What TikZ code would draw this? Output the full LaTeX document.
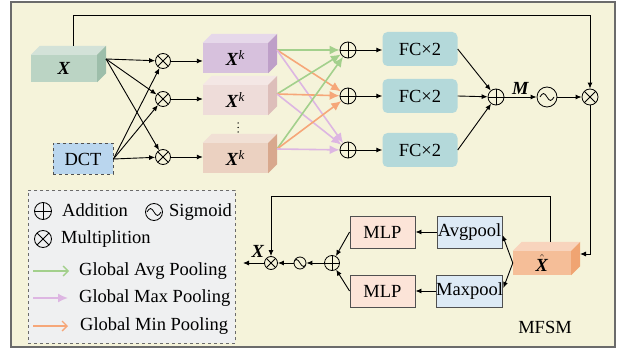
\documentclass[tikz,border=0pt]{standalone}
\usepackage{amsmath}
\usepackage{fontspec}
\setmainfont{Liberation Serif}
\usetikzlibrary{arrows.meta,calc}

\definecolor{bgcream}{HTML}{F5F3DA}
\definecolor{framegray}{HTML}{6B6B6B}
\definecolor{xfront}{HTML}{BBD4C4}
\definecolor{xtop}{HTML}{D3E2D8}
\definecolor{xside}{HTML}{9DBEAA}
\definecolor{aFront}{HTML}{D7C1DD}
\definecolor{aTop}{HTML}{E6D8EA}
\definecolor{aSide}{HTML}{BE9FC8}
\definecolor{bFront}{HTML}{EEDCD9}
\definecolor{bTop}{HTML}{F4E7E5}
\definecolor{bSide}{HTML}{DDBEBA}
\definecolor{cFront}{HTML}{EBD1C1}
\definecolor{cTop}{HTML}{F1E0D5}
\definecolor{cSide}{HTML}{D8A88D}
\definecolor{hFront}{HTML}{F5BE98}
\definecolor{hTop}{HTML}{F8D4BD}
\definecolor{hSide}{HTML}{F0A472}
\definecolor{dctblue}{HTML}{BAD6EE}
\definecolor{fcteal}{HTML}{B4D9DA}
\definecolor{mlpfill}{HTML}{FCE4D8}
\definecolor{poolfill}{HTML}{DDEAF5}
\definecolor{legfill}{HTML}{EFF0F1}
\definecolor{gcol}{HTML}{A3D08C}
\definecolor{ocol}{HTML}{F6A779}
\definecolor{pcol}{HTML}{DDB6E2}
\definecolor{boxborder}{HTML}{505050}

% name, center, width, height, front, top, side, text
\newcommand\mycube[8]{%
  \node[fill=#5, minimum width=#3pt, minimum height=#4pt, inner sep=0pt] (#1) at (#2) {#8};
  \fill[#6] (#1.north west) -- ++(9,-9) -- ([shift={(9pt,9pt)}]#1.north east) -- (#1.north east) -- cycle;
  \fill[#7] (#1.north east) -- ++(9,-9) -- ([shift={(9pt,9pt)}]#1.south east) -- (#1.south east) -- cycle;
}

\tikzset{
  opnode/.style={circle, draw=black, line width=0.8pt, inner sep=0pt, minimum size=#1pt},
  oplus/.style={opnode=#1, path picture={
      \draw[line width=0.8pt] (path picture bounding box.north) -- (path picture bounding box.south)
            (path picture bounding box.west) -- (path picture bounding box.east);}},
  otimes/.style={opnode=#1, path picture={
      \draw[line width=0.8pt] (path picture bounding box.north west) -- (path picture bounding box.south east)
            (path picture bounding box.south west) -- (path picture bounding box.north east);}},
  osig/.style={opnode=#1, path picture={
      \draw[line width=0.8pt, shift={(path picture bounding box.center)}, scale=#1/20]
         (-7,0) sin (-3.5,-3.5) cos (0,0) sin (3.5,3.5) cos (7,0);}},
  fcbox/.style={fill=fcteal, rounded corners=5pt, minimum width=75pt, minimum height=34pt, inner sep=0pt},
  mlpbox/.style={fill=mlpfill, draw=boxborder, line width=0.9pt, minimum width=65pt, minimum height=32pt, inner sep=0pt},
  poolbox/.style={fill=poolfill, draw=boxborder, line width=0.9pt, minimum width=65pt, minimum height=32pt, inner sep=0pt},
  gline/.style={draw=gcol, line width=1.6pt, -{Latex[length=10pt,width=9pt]}},
  oline/.style={draw=ocol, line width=1.6pt, -{Latex[length=10pt,width=9pt]}},
  pline/.style={draw=pcol, line width=1.6pt, -{Latex[length=10pt,width=9pt]}},
  lbl/.style={inner sep=0pt, anchor=west},
  arr/.style={line width=0.9pt, -{Latex[length=6pt,width=5pt]}},
}

\begin{document}
\begin{tikzpicture}[x=1pt,y=-1pt, font=\fontsize{18.5}{22}\selectfont]
\useasboundingbox (0,0) rectangle (623,355);
\draw[fill=bgcream, draw=framegray, line width=1.5pt] (11,2) rectangle (615,347);

% input cube and DCT
\mycube{x}{64,68.5}{66}{27}{xfront}{xtop}{xside}{\textbf{\textit{X}}}
\node[draw=boxborder, dashed, line width=0.8pt, fill=dctblue, minimum width=60pt, minimum height=31pt, inner sep=0pt] (dct) at (83,159) {DCT};

% frequency cubes
\mycube{k1}{235.5,58}{65}{30}{aFront}{aTop}{aSide}{\textbf{\textit{X}}\textsuperscript{\textit{k}}}
\mycube{k2}{235.5,100}{65}{30}{bFront}{bTop}{bSide}{\textbf{\textit{X}}\textsuperscript{\textit{k}}}
\mycube{k3}{235.5,158}{65}{30}{cFront}{cTop}{cSide}{\textbf{\textit{X}}\textsuperscript{\textit{k}}}
\foreach \yy in {123,127.5,132} \fill (238,\yy) circle (0.75pt);

% multiplications
\node[otimes=15] (m1) at (163,61) {};
\node[otimes=15] (m2) at (163,99) {};
\node[otimes=15] (m3) at (163,157) {};
\coordinate (xs) at (106,59);
\foreach \m in {m1,m2,m3}{
  \draw[arr] (xs) -- (\m);
  \draw[arr] (dct.east) -- (\m);
}
\draw[arr] (m1) -- (m1 -| k1.west);
\draw[arr] (m2) -- (m2 -| k2.west);
\draw[arr] (m3) -- (m3 -| k3.west);

% pooling lines
\coordinate (s1) at (277,50);
\coordinate (s2) at (277,94);
\coordinate (s3) at (277,149);
\node[oplus=16] (a1) at (348,50) {};
\node[oplus=16] (a2) at (348,96) {};
\node[oplus=16] (a3) at (348,150) {};
\foreach \s in {s1,s2,s3}{
  \draw[gline] (\s) -- (a1);
  \draw[oline] (\s) -- (a2);
  \draw[pline] (\s) -- (a3);
}

% FC
\node[fcbox] (f1) at (420,49) {FC×2};
\node[fcbox] (f2) at (420,96) {FC×2};
\node[fcbox] (f3) at (420,150) {FC×2};
\draw[arr] (a1) -- (a1 -| f1.west);
\draw[arr] (a2) -- (a2 -| f2.west);
\draw[arr] (a3) -- (a3 -| f3.west);

\node[oplus=16] (sm) at (496,97) {};
\draw[arr] (f1.east) -- (sm);
\draw[arr] (f2.east) -- (sm);
\draw[arr] (f3.east) -- (sm);
\node[osig=20] (sg) at (547,97) {};
\draw[arr] (sm) -- node[above=1pt, inner sep=1pt] (mlab) {\textbf{\textit{M}}} (sg);
\node[otimes=16] (mx) at (590,97) {};
\draw[arr] (sg) -- (mx);
\coordinate (xtop) at (73,46);
\coordinate (tr) at (590,15);
\draw[arr] (xtop) |- (tr) -- (mx);

% X hat
\mycube{xh}{542,263}{58}{24}{hFront}{hTop}{hSide}{$\hat{\textbf{\textit{X}}}$}
\coordinate (xhs) at (580,254);
\draw[arr] (mx) |- (xhs);

% bottom branch
\node[otimes=13] (bm) at (271,263) {};
\node[osig=12] (bs) at (300,263) {};
\node[oplus=15] (ba) at (332,263) {};
\coordinate (xht) at (550,242);
\coordinate (c1) at (550,196);
\draw[arr] (xht) -- (c1) -| (bm);
\coordinate (out) at (243,263);
\draw[arr] (bm) -- (out);
\node[inner sep=0pt] (xlab) at (258,251) {\textbf{\textit{X}}};
\draw[arr] (bs) -- (bm);
\draw[arr] (ba) -- (bs);

\node[mlpbox] (mlp1) at (382.5,232) {MLP};
\node[mlpbox] (mlp2) at (382.5,291) {MLP};
\node[poolbox] (avg) at (469.5,232) {Avgpool};
\node[poolbox] (mxp) at (469.5,291) {Maxpool};
\draw[arr] (avg) -- (mlp1);
\draw[arr] (mxp) -- (mlp2);
\draw[arr] (xh.west) -- ([yshift=-3pt]avg.east);
\draw[arr] (xh.west) -- ([yshift=3pt]mxp.east);
\draw[arr] (mlp1.west) -- (ba);
\draw[arr] (mlp2.west) -- (ba);

% legend
\node[draw=framegray, dashed, line width=0.8pt, fill=legfill, minimum width=207pt, minimum height=153pt, inner sep=0pt] (leg) at (131.5,266.5) {};
\node[oplus=17] (l1) at (43,211) {};
\node[lbl] (l1t) at (62,210) {Addition};
\node[osig=17] (l2) at (154,212) {};
\node[lbl] (l2t) at (169,212) {Sigmoid};
\node[otimes=17] (l3) at (43,239) {};
\node[lbl] (l3t) at (61,239) {Multiplition};
\coordinate (g0) at (33,271); \coordinate (g1) at (69,271);
\draw[draw=gcol, line width=1.3pt, -{Straight Barb[length=5pt,width=10pt]}] (g0) -- (g1);
\node[lbl] (gt) at (79,271) {Global Avg Pooling};
\coordinate (p0) at (33,298); \coordinate (p1) at (68,298);
\draw[draw=pcol, line width=1.6pt, -{Latex[length=10pt,width=9pt]}] (p0) -- (p1);
\node[lbl] (pt) at (79,298) {Global Max Pooling};
\coordinate (o0) at (33,326); \coordinate (o1) at (68,326);
\draw[draw=ocol, line width=1.3pt, -{Straight Barb[length=5pt,width=10pt]}] (o0) -- (o1);
\node[lbl] (ot) at (80,326) {Global Min Pooling};

\node (mfsm) at (545,327) {MFSM};
\end{tikzpicture}
\end{document}
